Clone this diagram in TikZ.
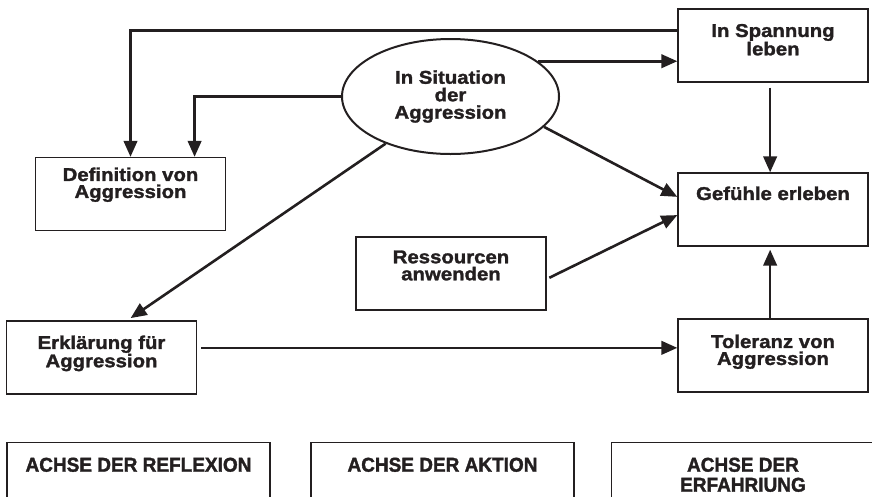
\documentclass[tikz,border=0pt]{standalone}
\usepackage{fontspec}
\setmainfont{Liberation Sans}[FakeStretch=1.1, BoldFeatures={FakeBold=1.6}]
\newfontfamily\axisfont{Liberation Sans}[FakeStretch=0.95, BoldFeatures={FakeBold=1.6}]
\usepackage{tikz}
\usetikzlibrary{arrows.meta, calc, positioning, shapes.geometric}
\definecolor{Ink}{HTML}{231F20}
\newcommand{\FlowBox}[4][14]{
	\node[flowbox] (#2) at (#3) {};
	\node[flowtext, below=#1pt of #2.north] (#2-text) {#4};
}
\newcommand{\AxisBox}[3]{
	\node[axisbox] (#1) at (#2) {};
	\node[axistext, below=15.5pt of #1.north] (#1-text) {#3};
}
\tikzset{
	flowbox/.style={draw=Ink, line width=1.3pt, minimum width=190pt, minimum height=73pt, inner sep=0pt},
	flowtext/.style={text=Ink, font=\bfseries\fontsize{18.5}{17}\selectfont, align=center, inner sep=0pt},
	axisbox/.style={draw=Ink, line width=1.3pt, minimum width=263pt, minimum height=80pt, anchor=north, inner sep=0pt},
	axistext/.style={text=Ink, font=\axisfont\bfseries\fontsize{20}{20}\selectfont, align=center, inner sep=0pt},
	flow/.style={draw=Ink, line width=2.6pt, -{Triangle[length=16pt, width=13.5pt]}},
}

\begin{document}
\begin{tikzpicture}[x=1pt, y=-1pt]

  \useasboundingbox (0,0) rectangle (872,496);
  \clip (0,0) rectangle (872,496);

  \node[draw=Ink, line width=2pt, ellipse, minimum width=217pt, minimum height=115pt, inner sep=0pt,
        text=Ink, font=\bfseries\fontsize{18.5}{17.5}\selectfont, align=center] (sit) at (450.5,96.5) {In Situation\\der\\Aggression};

  \FlowBox[10.5]{def}{130.5,194}{Definition von\\Aggression}
  \FlowBox[15.5]{span}{773,45.5}{In Spannung\\leben}
  \FlowBox{gef}{773,209.5}{Gefühle erleben}
  \FlowBox{res}{451,273.5}{Ressourcen\\anwenden}
  \FlowBox[15]{erk}{101.5,357.5}{Erklärung für\\Aggression}
  \FlowBox[16]{tol}{773,355.5}{Toleranz von\\Aggression}

  \AxisBox{refl}{138.5,442}{ACHSE DER REFLEXION}
  \AxisBox{akt}{442.5,442}{ACHSE DER AKTION}
  \AxisBox{erf}{743,442}{ACHSE DER\\ERFAHRIUNG}

  % connectors
  \coordinate (spanin) at ($(span.north west)!0.3!(span.south west)$);
  \coordinate (defin) at ($(def.north west)!0.835!(def.north east)$);
  \coordinate (erkout) at ($(erk.north east)!0.37!(erk.south east)$);
  \draw[flow] (spanin) -| (def.north);
  \draw[flow] (sit.west) -| (defin);
  \draw[flow] (sit.22) -- (sit.22 -| span.west);
  \draw[flow, shorten <=5pt] ($(span.south west)!0.485!(span.south east)$) -- ($(gef.north west)!0.485!(gef.north east)$);
  \draw[flow] (sit.-18) -- ($(gef.north west)!0.33!(gef.south west)$);
  \draw[flow, shorten <=3pt] ($(res.north east)!0.575!(res.south east)$) -- ($(gef.north west)!0.575!(gef.south west)$);
  \draw[flow, shorten >=4pt] (sit.216) -- ($(erk.north west)!0.635!(erk.north east)$);
  \draw[flow, shorten <=4pt] (erkout) -- (erkout -| tol.west);
  \draw[flow, shorten >=3pt] ($(tol.north west)!0.485!(tol.north east)$) -- ($(gef.south west)!0.485!(gef.south east)$);

\end{tikzpicture}
\end{document}
